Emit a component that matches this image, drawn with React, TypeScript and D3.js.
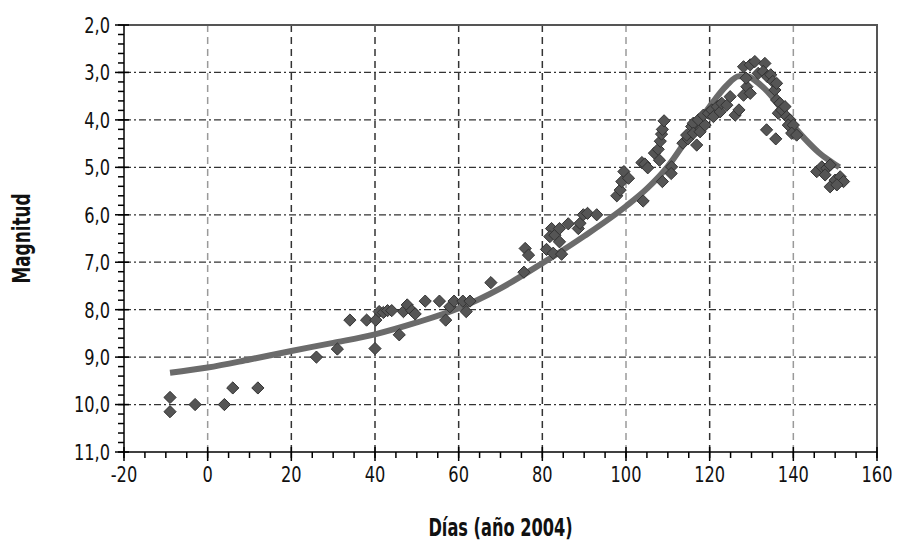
import React, { useEffect, useRef } from "react";
import * as d3 from "d3";

// observaciones (día, magnitud)
const obsDays = [
  -9, -9, -3, 4, 6, 12,
  26, 31, 34, 38, 40, 40.2, 41, 42, 43, 44, 45.8, 46.8, 47.7, 48.8, 49.6,
  52, 55.4, 56.9, 57.9, 58.9, 61, 61.8, 62.7, 67.7,
  75.6, 75.9, 76.7, 81, 82.2, 81.8, 83, 84.1, 82.6, 84.6, 84.1, 86.2, 88.6, 89, 89.8, 90.8, 93,
  97.8, 98.6, 99, 99.5, 100.6, 104.1, 103.8, 104.5, 105.2, 106.8, 107.7, 108.2, 108.5, 108.7, 109.1,
  108.7, 108.0, 110.9, 110.8, 113.6, 114.8, 116.9, 114.5, 115.7, 116.1, 117.3, 116.1, 117.7, 118.9,
  118.5, 119.7, 120.5, 120.9, 121.8, 122.5, 122.9, 124.1, 124.9, 126.1, 127, 128.1, 128.9, 129.7,
  128.7, 128.1, 129.7, 130.8, 131.6, 133.2, 132.8, 133.8, 134.6, 135.1, 135.6, 136, 136, 136.8,
  136.4, 137.2, 138, 138.4, 139.2, 138.8, 140, 139.6, 140.8, 133.6, 135.8,
  145.6, 146.8, 148, 148.8, 147.6, 148.8, 150, 151.2, 152, 150.4,
];
const obsMags = [
  9.85, 10.15, 10.0, 10.0, 9.65, 9.65,
  9.0, 8.83, 8.22, 8.22, 8.82, 8.22, 8.04, 8.06, 8.02, 8.02, 8.53, 8.04, 7.9, 8.02, 8.09,
  7.82, 7.82, 8.22, 7.94, 7.82, 7.82, 8.04, 7.82, 7.43,
  7.21, 6.71, 6.85, 6.73, 6.29, 6.46, 6.43, 6.29, 6.81, 6.83, 6.57, 6.19, 6.29, 6.18, 6.0, 5.97, 6.0,
  5.6, 5.48, 5.3, 5.09, 5.23, 5.71, 4.9, 4.93, 5.01, 4.7, 4.62, 4.45, 4.3, 4.2, 4.02,
  5.3, 4.85, 4.99, 5.13, 4.49, 4.4, 4.53, 4.32, 4.14, 4.07, 4.0, 4.28, 4.25, 4.11,
  3.9, 3.86, 3.79, 3.93, 3.72, 3.83, 3.65, 3.69, 3.51, 3.9, 3.79, 3.48, 3.3, 3.44,
  3.12, 2.88, 2.84, 2.77, 3.02, 2.81, 2.98, 3.09, 3.05, 3.19, 3.37, 3.23, 3.58, 3.65,
  3.86, 3.79, 3.72, 3.93, 4.0, 4.11, 4.11, 4.28, 4.32, 4.21, 4.4,
  5.09, 4.99, 5.02, 4.95, 5.16, 5.41, 5.27, 5.2, 5.3, 5.37,
];

// curva ajustada
const fitDays = [-9, 0, 10, 20, 30, 40, 50, 60, 70, 80, 90, 100, 105, 110, 115, 120, 124, 127, 129, 131, 133, 135, 138, 140, 143, 146, 149, 151];
const fitMags = [9.33, 9.22, 9.05, 8.87, 8.7, 8.52, 8.27, 7.97, 7.55, 7.02, 6.45, 5.82, 5.45, 4.98, 4.35, 3.72, 3.28, 3.08, 3.08, 3.18, 3.33, 3.52, 3.88, 4.12, 4.42, 4.68, 4.88, 5.0];

const xTicks = [-20, 0, 20, 40, 60, 80, 100, 120, 140, 160];
const yTicks = [2, 3, 4, 5, 6, 7, 8, 9, 10, 11];
const lightGrid = [0, 100, 140];

const width = 898;
const height = 549;
const margin = { left: 124, right: 21, top: 25, bottom: 97 };
const tickFont = "'DejaVu Sans Condensed', 'DejaVu Sans', sans-serif";

export default function App() {
  const ref = useRef<SVGSVGElement>(null);

  useEffect(() => {
    const svg = d3.select(ref.current);
    svg.selectAll("*").remove();

    const x = d3.scaleLinear().domain([-20, 160]).range([margin.left, width - margin.right]);
    const y = d3.scaleLinear().domain([2, 11]).range([margin.top, height - margin.bottom]);
    const [x0, x1] = x.range();
    const [y0, y1] = y.range();

    // rejilla horizontal (raya-punto)
    svg.append("g")
      .selectAll("line")
      .data(yTicks.slice(1, -1))
      .join("line")
      .attr("x1", x0).attr("x2", x1)
      .attr("y1", d => y(d)).attr("y2", d => y(d))
      .attr("stroke", "#333")
      .attr("stroke-width", 1.2)
      .attr("stroke-dasharray", "7,3,2,3");

    // rejilla vertical (discontinua)
    svg.append("g")
      .selectAll("line")
      .data(xTicks.slice(1, -1))
      .join("line")
      .attr("x1", d => x(d)).attr("x2", d => x(d))
      .attr("y1", y0).attr("y2", y1)
      .attr("stroke", d => (lightGrid.includes(d) ? "#9a9a9a" : "#333"))
      .attr("stroke-width", 1.5)
      .attr("stroke-dasharray", "7,5");

    // marco superior y derecho
    svg.append("path")
      .attr("d", `M${x0},${y0}H${x1}V${y1}`)
      .attr("fill", "none")
      .attr("stroke", "#555")
      .attr("stroke-width", 2);

    // curva
    const line = d3.line<number>()
      .x((d, i) => x(fitDays[i]))
      .y(d => y(d))
      .curve(d3.curveMonotoneX);
    svg.append("path")
      .datum(fitMags)
      .attr("d", line)
      .attr("fill", "none")
      .attr("stroke", "#6b6b6b")
      .attr("stroke-width", 6)
      .attr("stroke-linejoin", "round");

    // puntos (rombos)
    const diamond = d3.symbol().type(d3.symbolDiamond2).size(95);
    svg.append("g")
      .selectAll("path")
      .data(obsDays.map((d, i) => [d, obsMags[i]]))
      .join("path")
      .attr("d", diamond)
      .attr("transform", d => `translate(${x(d[0])},${y(d[1])})`)
      .attr("fill", "#555")
      .attr("stroke", "#333")
      .attr("stroke-width", 1);

    // ejes
    const axes = svg.append("g").attr("stroke", "#000").attr("stroke-width", 1.5);
    axes.append("line").attr("x1", x0).attr("x2", x0).attr("y1", y0).attr("y2", y1);
    axes.append("line").attr("x1", x0).attr("x2", x1).attr("y1", y1).attr("y2", y1);

    const yMinor = d3.range(2, 11.001, 0.2);
    axes.selectAll(".ymin")
      .data(yMinor)
      .join("line")
      .attr("x1", x0 - 6).attr("x2", x0)
      .attr("y1", d => y(d)).attr("y2", d => y(d));
    axes.selectAll(".ymaj")
      .data(yTicks)
      .join("line")
      .attr("x1", x0 - 9).attr("x2", x0 + 5)
      .attr("y1", d => y(d)).attr("y2", d => y(d));

    const xMinor = d3.range(-20, 160.001, 5);
    axes.selectAll(".xmin")
      .data(xMinor)
      .join("line")
      .attr("x1", d => x(d)).attr("x2", d => x(d))
      .attr("y1", y1).attr("y2", y1 + 6);
    axes.selectAll(".xmaj")
      .data(xTicks)
      .join("line")
      .attr("x1", d => x(d)).attr("x2", d => x(d))
      .attr("y1", y1 - 5).attr("y2", y1 + 9);

    const fmt = (v: number) => v.toFixed(1).replace(".", ",");
    svg.append("g")
      .selectAll("text")
      .data(yTicks)
      .join("text")
      .attr("transform", d => `translate(${x0 - 14},${y(d)}) scale(0.82,1)`)
      .attr("dy", "0.36em")
      .attr("text-anchor", "end")
      .attr("font-family", tickFont)
      .attr("font-size", 22)
      .attr("fill", "#111")
      .text(fmt);

    svg.append("g")
      .selectAll("text")
      .data(xTicks)
      .join("text")
      .attr("transform", d => `translate(${x(d)},${y1 + 14}) scale(0.82,1)`)
      .attr("dy", "0.74em")
      .attr("text-anchor", "middle")
      .attr("font-family", tickFont)
      .attr("font-size", 22)
      .attr("fill", "#111")
      .text(d => String(d));

    svg.append("text")
      .attr("transform", `translate(${(x0 + x1) / 2},536) scale(0.72,1)`)
      .attr("text-anchor", "middle")
      .attr("font-family", tickFont)
      .attr("font-weight", "bold")
      .attr("font-size", 25)
      .attr("fill", "#111")
      .text("Días (año 2004)");

    svg.append("text")
      .attr("transform", `translate(30,${(y0 + y1) / 2}) rotate(-90) scale(0.78,1)`)
      .attr("text-anchor", "middle")
      .attr("font-family", tickFont)
      .attr("font-weight", "bold")
      .attr("font-size", 24)
      .attr("fill", "#111")
      .text("Magnitud");
  }, []);

  return (
    <svg
      ref={ref}
      width={width}
      height={height}
      style={{ position: "absolute", left: 0, top: 0, background: "#fff" }}
    />
  );
}
